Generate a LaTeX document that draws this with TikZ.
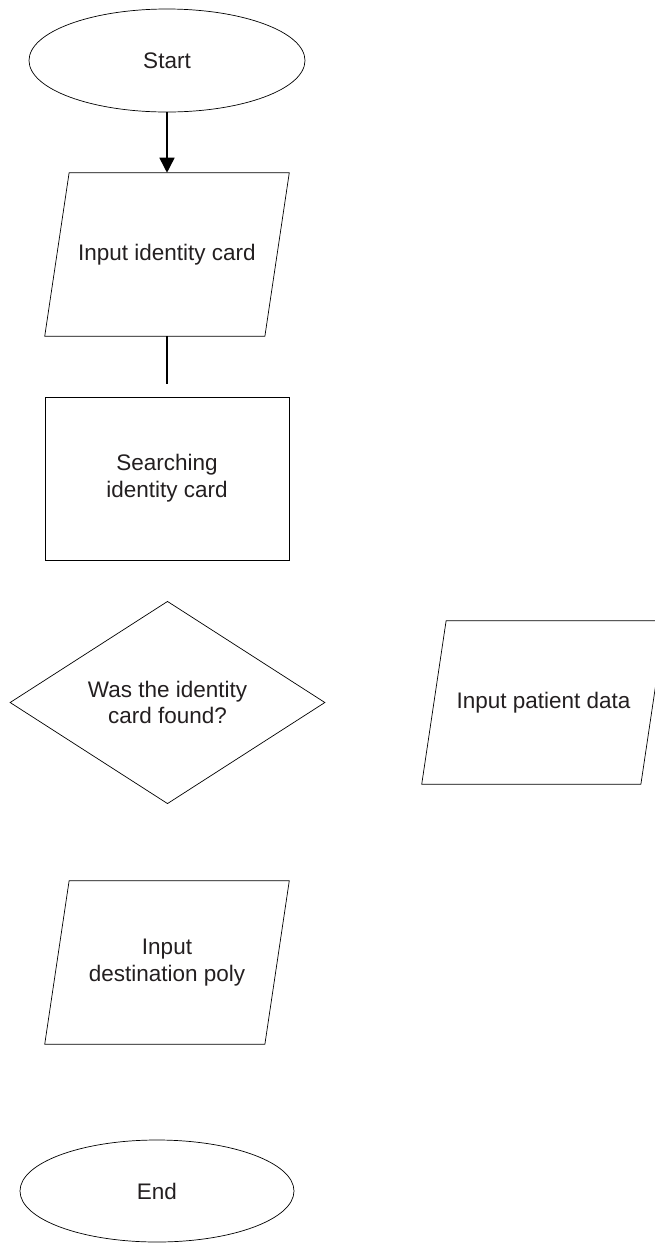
\documentclass[tikz,border=0pt]{standalone}
\usepackage{fontspec}
\setmainfont{Liberation Sans}
\usetikzlibrary{shapes.geometric,arrows.meta}
\definecolor{inkgrey}{HTML}{231F20}

\begin{document}
\begin{tikzpicture}[
    terminal/.style={ellipse, draw, line width=0.5pt, inner sep=0pt, minimum width=6.9cm, minimum height=2.575cm, align=center, text=inkgrey, font=\fontsize{16}{19}\selectfont},
    io/.style={rectangle, minimum width=6.1cm, minimum height=4.075cm, align=center, text=inkgrey, font=\fontsize{16}{19}\selectfont,
        append after command={\pgfextra{\begin{pgfinterruptpath}
            \draw[line width=0.5pt] ([xshift=0.61cm]\tikzlastnode.north west) -- (\tikzlastnode.north east)
                -- ([xshift=-0.61cm]\tikzlastnode.south east) -- (\tikzlastnode.south west) -- cycle;
        \end{pgfinterruptpath}}}},
    process/.style={rectangle, draw, line width=0.5pt, minimum width=6.1cm, minimum height=4.075cm, align=center, text=inkgrey, font=\fontsize{16}{19}\selectfont},
    decision/.style={diamond, draw, line width=0.5pt, inner sep=0pt, minimum width=7.875cm, minimum height=4.075cm, align=center, text=inkgrey, font=\fontsize{16}{19}\selectfont},
    arrow/.style={-{Triangle[length=0.375cm, width=0.375cm]}, line width=1.1pt},
    stub/.style={line width=1.1pt}
]
    \useasboundingbox (0,0) rectangle (16.375,-31.075);

    % Knoten
    \node[terminal] (start) at (4.175,-1.5125) {Start};
    \node[io] (inputcard) at (4.175,-6.3625) {Input identity card};
    \coordinate (cardstub) at (4.175,-9.6);
    \node[process] (searchcard) at (4.175,-11.9625) {Searching\\identity card};
    \node[decision] (cardfound) at (4.1875,-17.5625) {Was the identity\\card found?};
    \node[io, minimum width=6.075cm] (inputpatient) at (13.5875,-17.5625) {Input patient data};
    \node[io] (inputpoly) at (4.175,-24.0625) {Input\\destination poly};
    \node[terminal, minimum width=6.85cm, minimum height=2.55cm] (end) at (3.925,-29.775) {End};

    % Verbindungen
    \draw[arrow] (start) -- (inputcard);
    \draw[stub] (inputcard) -- (cardstub);
\end{tikzpicture}
\end{document}
